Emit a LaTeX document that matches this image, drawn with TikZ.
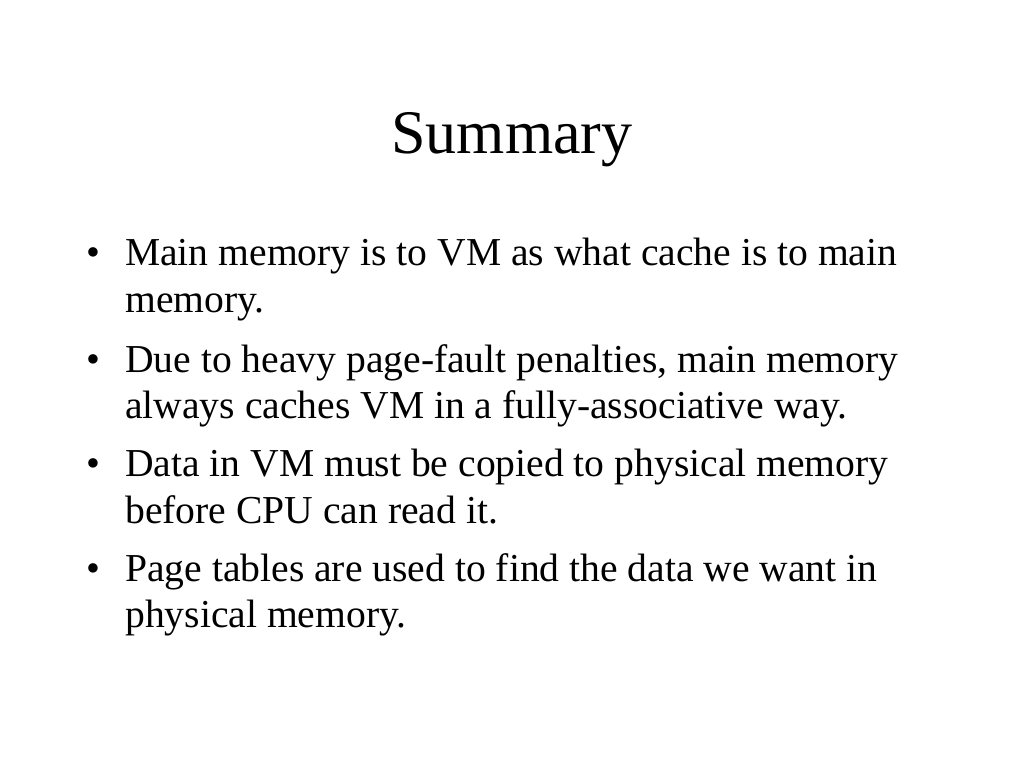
\documentclass[tikz,border=0pt]{standalone}
\usepackage{fontspec}
\setmainfont{Liberation Serif}
\begin{document}
\begin{tikzpicture}[x=1pt,y=1pt,
			title node/.style={font=\fontsize{62}{70}\selectfont,inner sep=0pt,anchor=base},
			item node/.style={font=\fontsize{39.6}{47}\selectfont,inner sep=0pt,anchor=base west},
			dot node/.style={item node}]
			
			\useasboundingbox (0,0) rectangle (1024,-768);
			
			\node[title node] (Title) at (512,-153) {Summary};
			
			\node[dot node] (D1) at (86,-265) {•};
			\node[item node] (L1a) at (125,-265) {Main memory is to VM as what cache is to main};
			\node[item node] (L1b) at (125,-312) {memory.};
			
			\node[dot node] (D2) at (86,-372) {•};
			\node[item node] (L2a) at (125,-372) {Due to heavy page-fault penalties, main memory};
			\node[item node] (L2b) at (125,-418) {always caches VM in a fully-associative way.};
			
			\node[dot node] (D3) at (86,-476) {•};
			\node[item node] (L3a) at (125,-476) {Data in VM must be copied to physical memory};
			\node[item node] (L3b) at (125,-523) {before CPU can read it.};
			
			\node[dot node] (D4) at (86,-581) {•};
			\node[item node] (L4a) at (125,-581) {Page tables are used to find the data we want in};
			\node[item node] (L4b) at (125,-627) {physical memory.};
			\end{tikzpicture}
\end{document}
